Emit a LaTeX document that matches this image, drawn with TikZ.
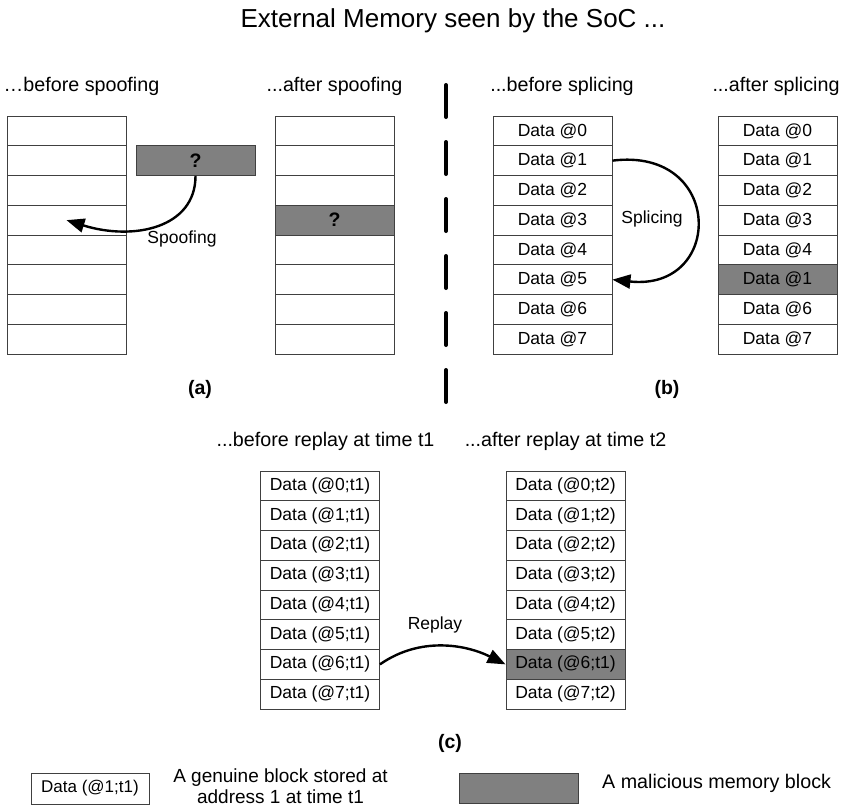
\documentclass[tikz,border=0pt]{standalone}
\usepackage{fontspec}
\setmainfont{Liberation Sans}
\usetikzlibrary{arrows.meta}
\begin{document}
\begin{tikzpicture}[x=1pt,y=-1pt,
  cell/.style={draw=black!75, line width=0.9pt, minimum width=119pt, minimum height=29.75pt, inner sep=0pt, font=\fontsize{17.5}{21}\selectfont},
  mal/.style={cell, fill=black!50},
  lbl/.style={font=\fontsize{19.7}{23}\selectfont, inner sep=0pt},
  small/.style={font=\fontsize{17.5}{21}\selectfont, inner sep=0pt},
  capt/.style={font=\bfseries\fontsize{19.5}{23}\selectfont, inner sep=0pt},
  qm/.style={font=\bfseries\fontsize{19.5}{23}\selectfont},
  arr/.style={line width=2.4pt, -{Triangle[length=18pt,width=14pt]}}]
\useasboundingbox (0,0) rectangle (849,809);

% title
\node[font=\fontsize{26}{30}\selectfont, inner sep=0pt] (title) at (453,21) {External Memory seen by the SoC ...};

% headers
\node[lbl] (ha1) at (81.5,86) {…before spoofing};
\node[lbl] (ha2) at (334.5,86) {...after spoofing};
\node[lbl] (hb1) at (562,86) {...before splicing};
\node[lbl] (hb2) at (776,86) {...after splicing};
\node[lbl] (hc1) at (325.5,441) {...before replay at time t1};
\node[lbl] (hc2) at (565.5,441) {...after replay at time t2};

% (a) columns
\foreach \i in {0,...,7}
  \node[cell] (al\i) at (66.5,{116+(\i+0.5)*29.75}) {};
\foreach \i in {0,1,2,4,5,6,7}
  \node[cell] (ar\i) at (334.5,{116+(\i+0.5)*29.75}) {};
\node[mal,qm] (ar3) at (334.5,{116+3.5*29.75}) {?};
\node[mal,qm] (q) at (195.5,{116+1.5*29.75}) {?};

% (b) columns
\foreach \i in {0,...,7}
  \node[cell] (bl\i) at (552.5,{116+(\i+0.5)*29.75}) {Data @\i};
\foreach \i in {0,1,2,3,4,6,7}
  \node[cell] (br\i) at (777.5,{116+(\i+0.5)*29.75}) {Data @\i};
\node[mal] (br5) at (777.5,{116+5.5*29.75}) {Data @1};

% (c) columns
\foreach \i in {0,...,7}
  \node[cell] (cl\i) at (320,{471+(\i+0.5)*29.75}) {Data (@\i;t1)};
\foreach \i in {0,1,2,3,4,5,7}
  \node[cell] (cr\i) at (565.5,{471+(\i+0.5)*29.75}) {Data (@\i;t2)};
\node[mal] (cr6) at (565.5,{471+6.5*29.75}) {Data (@6;t1)};

% arrows
\draw[arr] (q.south) .. controls +(0,52) and +(67,21) .. (al3.center);
\node[small] (spoof) at (182,239) {Spoofing};
\draw[arr] (bl1.east) .. controls +(112,-14) and +(112,12) .. (bl5.east);
\node[small] (splice) at (652,219) {Splicing};
\draw[arr] (cl6.east) .. controls +(40,-28) and +(-40,-20) .. (cr6.west);
\node[small] (replay) at (435,625) {Replay};

% captions
\node[capt] (capa) at (200,389) {(a)};
\node[capt] (capb) at (667,389) {(b)};
\node[capt] (capc) at (450,743) {(c)};

% dashed separator
\draw[line width=4pt, line cap=round, dash pattern=on 32pt off 25pt] (446,85) -- (446,405);

% legend
\node[cell, minimum width=118pt, minimum height=31pt, font=\fontsize{17}{20}\selectfont] (lg1) at (90,788.5) {Data (@1;t1)};
\node[lbl, align=center, font=\fontsize{19}{20.5}\selectfont] (lg1t) at (280.5,786) {A genuine block stored at\\address 1 at time t1};
\node[mal, minimum height=30pt] (lg2) at (518.5,788) {};
\node[lbl, anchor=west] (lg2t) at (602,783) {A malicious memory block};
\end{tikzpicture}
\end{document}
